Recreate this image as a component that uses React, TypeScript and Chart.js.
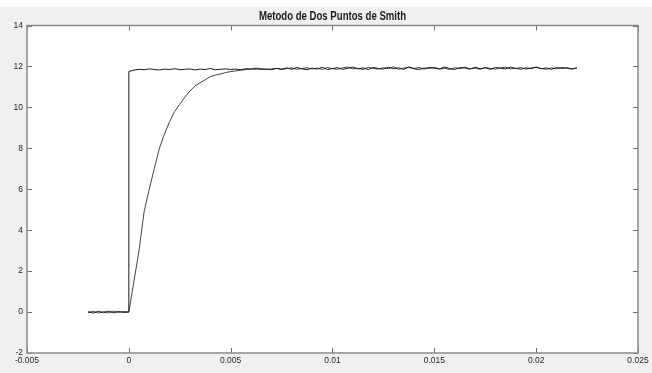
import { useEffect, useRef } from "react";
import { Chart, registerables } from "chart.js";

Chart.register(...registerables);

const TITLE = "Metodo de Dos Puntos de Smith";

const X_MIN = -0.005;
const X_MAX = 0.025;
const X_STEP = 0.005;
const Y_MIN = -2;
const Y_MAX = 14;
const Y_STEP = 2;

// sample instants (s)
const TIMES = [
  -0.002, -0.00175, -0.0015, -0.00125, -0.001, -0.00075, -0.0005, -0.00025, 0,
  0.00025, 0.0005, 0.00075, 0.001, 0.00125, 0.0015, 0.00175, 0.002,
  0.00225, 0.0025, 0.00275, 0.003, 0.00325, 0.0035, 0.00375, 0.004,
  0.00425, 0.0045, 0.00475, 0.005, 0.00525, 0.0055, 0.00575, 0.006,
  0.00625, 0.0065, 0.00675, 0.007, 0.00725, 0.0075, 0.00775, 0.008,
  0.00825, 0.0085, 0.00875, 0.009, 0.00925, 0.0095, 0.00975, 0.01,
  0.01025, 0.0105, 0.01075, 0.011, 0.01125, 0.0115, 0.01175, 0.012,
  0.01225, 0.0125, 0.01275, 0.013, 0.01325, 0.0135, 0.01375, 0.014,
  0.01425, 0.0145, 0.01475, 0.015, 0.01525, 0.0155, 0.01575, 0.016,
  0.01625, 0.0165, 0.01675, 0.017, 0.01725, 0.0175, 0.01775, 0.018,
  0.01825, 0.0185, 0.01875, 0.019, 0.01925, 0.0195, 0.01975, 0.02,
  0.02025, 0.0205, 0.02075, 0.021, 0.02125, 0.0215, 0.02175, 0.022,
];

// step input instant and level before the edge
const STEP_EDGE_TIME = 0;
const STEP_EDGE_LOW = 0;

// step input (aligned with TIMES)
const STEP_VALUES = [
  0.02, -0.05, 0.04, -0.03, 0.05, -0.04, 0.03, -0.02, 11.75,
  11.82, 11.86, 11.84, 11.88, 11.85, 11.83, 11.87, 11.85, 11.89, 11.84,
  11.86, 11.88, 11.83, 11.87, 11.85, 11.9, 11.84, 11.86, 11.88, 11.85,
  11.87, 11.83, 11.89, 11.86, 11.92, 11.85, 11.88, 11.84, 11.9, 11.87,
  11.93, 11.86, 11.95, 11.88, 11.84, 11.92, 11.87, 11.96, 11.85, 11.9,
  11.94, 11.86, 11.91, 11.97, 11.88, 11.93, 11.85, 11.95, 11.9, 11.87,
  11.96, 11.89, 11.93, 11.86, 11.98, 11.9, 11.94, 11.87, 11.95, 11.91,
  11.88, 11.97, 11.9, 11.85, 11.94, 11.92, 11.87, 11.96, 11.89, 11.93,
  11.86, 11.95, 11.91, 11.88, 11.97, 11.9, 11.94, 11.87, 11.92, 11.96,
  11.89, 11.93, 11.86, 11.95, 11.9, 11.94, 11.88, 11.92,
];

// process response (aligned with TIMES)
const RESPONSE_VALUES = [
  -0.03, 0.04, -0.05, 0.02, -0.04, 0.05, -0.02, 0.03,
  0, 1.5, 3.0, 4.9, 6.0, 7.0, 8.0, 8.7, 9.3, 9.8, 10.15, 10.5, 10.8,
  11.05, 11.2, 11.35, 11.5, 11.58, 11.63, 11.7, 11.75, 11.78, 11.82, 11.85, 11.88,
  11.86, 11.9, 11.84, 11.88, 11.91, 11.85, 11.89, 11.93, 11.86, 11.9,
  11.94, 11.87, 11.92, 11.85, 11.95, 11.89, 11.86, 11.93, 11.97, 11.88,
  11.91, 11.85, 11.96, 11.9, 11.87, 11.94, 11.89, 11.98, 11.86, 11.92,
  11.95, 11.88, 11.84, 11.93, 11.9, 11.96, 11.87, 11.91, 11.85, 11.94,
  11.89, 11.97, 11.88, 11.92, 11.86, 11.95, 11.9, 11.87, 11.93, 11.96,
  11.88, 11.91, 11.85, 11.94, 11.89, 11.97, 11.9, 11.86, 11.93, 11.88,
  11.95, 11.91, 11.87, 11.93,
];

const FONT = "'Liberation Sans', Arial, sans-serif";

const fmt = (v: number) => String(Math.round(v * 100000) / 100000);

const frameTicks = {
  id: "frameTicks",
  beforeDraw(chart: any) {
    const { ctx, chartArea } = chart;
    ctx.save();
    ctx.fillStyle = "#ffffff";
    ctx.fillRect(chartArea.left, chartArea.top, chartArea.right - chartArea.left, chartArea.bottom - chartArea.top);
    ctx.restore();
  },
  afterDatasetsDraw(chart: any) {
    const { ctx, chartArea, scales } = chart;
    const { left, right, top, bottom } = chartArea;
    ctx.save();
    ctx.strokeStyle = "#6e6e6e";
    ctx.lineWidth = 1;
    const len = 5;
    scales.x.ticks.forEach((t: any) => {
      const px = Math.round(scales.x.getPixelForValue(t.value)) + 0.5;
      ctx.beginPath();
      ctx.moveTo(px, bottom);
      ctx.lineTo(px, bottom - len);
      ctx.moveTo(px, top);
      ctx.lineTo(px, top + len);
      ctx.stroke();
    });
    scales.y.ticks.forEach((t: any) => {
      const py = Math.round(scales.y.getPixelForValue(t.value)) + 0.5;
      ctx.beginPath();
      ctx.moveTo(left, py);
      ctx.lineTo(left + len, py);
      ctx.moveTo(right, py);
      ctx.lineTo(right - len, py);
      ctx.stroke();
    });
    ctx.strokeStyle = "#8a8a8a";
    ctx.lineWidth = 1.5;
    ctx.strokeRect(left, top, right - left, bottom - top);
    ctx.restore();
  },
  afterDraw(chart: any) {
    const { ctx, chartArea } = chart;
    const cx = (chartArea.left + chartArea.right) / 2;
    ctx.save();
    ctx.translate(cx, 16.5);
    ctx.scale(0.8, 1);
    ctx.font = `bold 12px ${FONT}`;
    ctx.fillStyle = "#1a1a1a";
    ctx.textAlign = "center";
    ctx.textBaseline = "middle";
    ctx.fillText(TITLE, 0, 0);
    ctx.restore();
  },
};

export default function App() {
  const ref = useRef<HTMLCanvasElement | null>(null);

  useEffect(() => {
    if (!ref.current) return;
    const stepData: { x: number; y: number }[] = [];
    TIMES.forEach((t, i) => {
      if (t === STEP_EDGE_TIME) stepData.push({ x: STEP_EDGE_TIME, y: STEP_EDGE_LOW });
      stepData.push({ x: t, y: STEP_VALUES[i] });
    });
    const respData = TIMES.map((t, i) => ({ x: t, y: RESPONSE_VALUES[i] }));

    const chart = new Chart(ref.current, {
      type: "line",
      data: {
        datasets: [
          {
            label: "Entrada",
            data: stepData,
            borderColor: "#1c1c1c",
            borderWidth: 1,
            pointRadius: 0,
            tension: 0,
          },
          {
            label: "Respuesta",
            data: respData,
            borderColor: "#444444",
            borderWidth: 1,
            pointRadius: 0,
            tension: 0,
          },
        ],
      },
      options: {
        animation: false,
        responsive: false,
        devicePixelRatio: 1,
        parsing: false as any,
        layout: { padding: { left: 0, right: 14, top: 25.5, bottom: 0 } },
        plugins: {
          legend: { display: false },
          tooltip: { enabled: false },
          title: { display: false },
        },
        scales: {
          x: {
            type: "linear",
            min: X_MIN,
            max: X_MAX,
            ticks: {
              stepSize: X_STEP,
              callback: (v: any) => fmt(Number(v)),
              font: { family: FONT, size: 8.5 },
              color: "#262626",
              padding: 3,
              maxRotation: 0,
              autoSkip: false,
            },
            grid: { display: false, drawTicks: false },
            border: { display: false },
            afterFit: (s: any) => {
              s.height = 20;
            },
          },
          y: {
            type: "linear",
            min: Y_MIN,
            max: Y_MAX,
            ticks: {
              stepSize: Y_STEP,
              callback: (v: any) => fmt(Number(v)),
              font: { family: FONT, size: 8.5 },
              color: "#262626",
              padding: 4,
              autoSkip: false,
            },
            grid: { display: false, drawTicks: false },
            border: { display: false },
            afterFit: (s: any) => {
              s.width = 27;
            },
          },
        },
      },
      plugins: [frameTicks],
    });
    return () => chart.destroy();
  }, []);

  return (
    <div
      style={{
        position: "fixed",
        left: 0,
        top: 0,
        width: 652,
        height: 373,
        background: "linear-gradient(#ffffff 0px, #ffffff 7px, #f0f0f0 7px)",
      }}
    >
      <canvas ref={ref} width={652} height={373} style={{ display: "block" }} />
    </div>
  );
}
